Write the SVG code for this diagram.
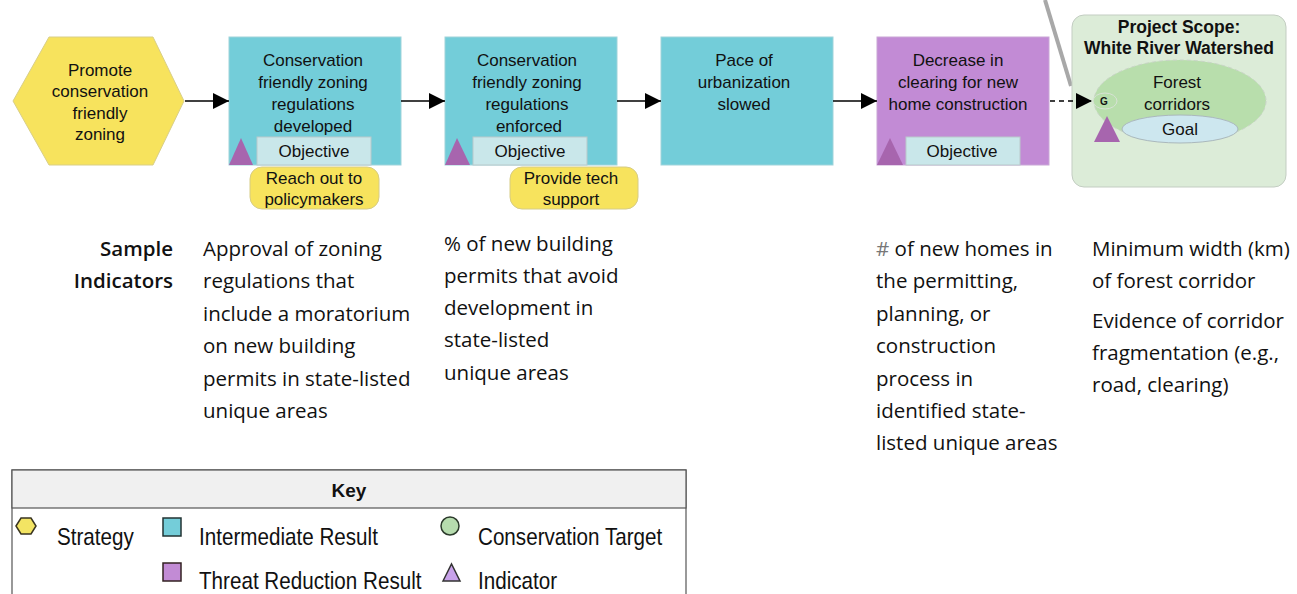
<svg xmlns="http://www.w3.org/2000/svg" width="1297" height="594" viewBox="0 0 1297 594">
<defs>
<marker id="ah" viewBox="0 0 10 10" refX="10" refY="5" markerWidth="16" markerHeight="16" markerUnits="userSpaceOnUse" orient="auto"><path d="M0,0 L10,5 L0,10 z" fill="#000"/></marker>
<style>
.lbl{font-family:"Liberation Sans",Arial,sans-serif;font-size:17px;fill:#111;text-anchor:middle}
.ir{fill:#73cdd9;stroke:#9fd3da;stroke-width:1}
.tr{fill:#c28bd5;stroke:#c9a6d6;stroke-width:1}
.obj{fill:#c9e7ea;stroke:#b9c9cb;stroke-width:1}
.ind{fill:#a765ae}
.act{fill:#f7e35d;stroke:#d6cc86;stroke-width:1}
.conn{stroke:#000;stroke-width:1.6;fill:none}
.si{font-family:"Open Sans","Noto Sans",sans-serif;font-size:20.5px;fill:#111}
.key{font-family:"Liberation Sans",Arial,sans-serif;font-size:24px;fill:#111}
</style>
</defs>
<rect width="1297" height="594" fill="#fff"/>
<line x1="1045" y1="0" x2="1071" y2="86" stroke="#a8a8a8" stroke-width="4"/>

<g id="strategy">
<polygon points="13,101 49,37 153,37 184,101 153,165 49,165" fill="#f7e35d" stroke="#d9cf88"/>
<text class="lbl" x="100" y="76">Promote</text>
<text class="lbl" x="100" y="97">conservation</text>
<text class="lbl" x="100" y="119">friendly</text>
<text class="lbl" x="100" y="140">zoning</text>
</g>

<g id="ir1">
<rect class="ir" x="229" y="37" width="172" height="128"/>
<text class="lbl" x="313" y="66">Conservation</text>
<text class="lbl" x="313" y="88">friendly zoning</text>
<text class="lbl" x="313" y="110">regulations</text>
<text class="lbl" x="313" y="132">developed</text>
<rect class="obj" x="257" y="137" width="114" height="28"/>
<text class="lbl" x="314" y="157">Objective</text>
<polygon class="ind" points="229,165 241,138 253,165"/>
</g>
<g id="act1">
<rect class="act" x="250" y="167" width="129" height="42" rx="12"/>
<text class="lbl" x="314" y="184">Reach out to</text>
<text class="lbl" x="314" y="205">policymakers</text>
</g>

<g id="ir2">
<rect class="ir" x="445" y="37" width="172" height="128"/>
<text class="lbl" x="527" y="66">Conservation</text>
<text class="lbl" x="527" y="88">friendly zoning</text>
<text class="lbl" x="527" y="110">regulations</text>
<text class="lbl" x="529" y="132">enforced</text>
<rect class="obj" x="473" y="137" width="114" height="28"/>
<text class="lbl" x="530" y="157">Objective</text>
<polygon class="ind" points="445,165 457,138 470,165"/>
</g>
<g id="act2">
<rect class="act" x="510" y="167" width="128" height="42" rx="12"/>
<text class="lbl" x="571" y="184">Provide tech</text>
<text class="lbl" x="571" y="205">support</text>
</g>

<g id="ir3">
<rect class="ir" x="661" y="37" width="172" height="128"/>
<text class="lbl" x="744" y="66">Pace of</text>
<text class="lbl" x="744" y="88">urbanization</text>
<text class="lbl" x="744" y="110">slowed</text>
</g>

<g id="trr">
<rect class="tr" x="877" y="37" width="172" height="128"/>
<text class="lbl" x="958" y="66">Decrease in</text>
<text class="lbl" x="958" y="88">clearing for new</text>
<text class="lbl" x="958" y="110">home construction</text>
<rect class="obj" x="906" y="137" width="114" height="28"/>
<text class="lbl" x="962" y="157">Objective</text>
<polygon class="ind" points="877,165 890,138 903,165"/>
</g>

<g id="scope">
<rect x="1072" y="15" width="214" height="172" rx="12" fill="#dcecd8" stroke="#c3cdc2"/>
<text class="lbl" x="1179" y="33" style="font-weight:bold;font-size:17.5px">Project Scope:</text>
<text class="lbl" x="1179" y="54" style="font-weight:bold;font-size:17.5px">White River Watershed</text>
<ellipse cx="1180" cy="101" rx="86" ry="41" fill="#b8deac" stroke="#c8d4c6" stroke-dasharray="4,3"/>
<text class="lbl" x="1177" y="88">Forest</text>
<text class="lbl" x="1177" y="110">corridors</text>
<ellipse cx="1105" cy="101" rx="12" ry="8" fill="#b8deac" stroke="#d8e2d6"/>
<text x="1104" y="105" style="font-family:'Liberation Sans',Arial,sans-serif;font-size:10px;font-weight:bold;text-anchor:middle;fill:#111">G</text>
<ellipse cx="1180" cy="129" rx="58" ry="14" fill="#cde7ef" stroke="#aab8bc"/>
<text class="lbl" x="1180" y="135">Goal</text>
<polygon class="ind" points="1094,142 1107,116 1120,142"/>
</g>

<g id="connectors">
<line class="conn" x1="185" y1="101" x2="229" y2="101" marker-end="url(#ah)"/>
<line class="conn" x1="401" y1="101" x2="445" y2="101" marker-end="url(#ah)"/>
<line class="conn" x1="617" y1="101" x2="661" y2="101" marker-end="url(#ah)"/>
<line class="conn" x1="833" y1="101" x2="877" y2="101" marker-end="url(#ah)"/>
<line class="conn" x1="1050" y1="101" x2="1092" y2="101" stroke-dasharray="5,4" marker-end="url(#ah)"/>
</g>

<g id="indicators">
<text class="si" x="173" y="256" text-anchor="end" style="font-weight:600">Sample</text>
<text class="si" x="173" y="288" text-anchor="end" style="font-weight:600">Indicators</text>
<text class="si" x="203" y="256">Approval of zoning</text>
<text class="si" x="203" y="288">regulations that</text>
<text class="si" x="203" y="321">include a moratorium</text>
<text class="si" x="203" y="353">on new building</text>
<text class="si" x="203" y="386">permits in state-listed</text>
<text class="si" x="203" y="418">unique areas</text>
<text class="si" x="444" y="251">% of new building</text>
<text class="si" x="444" y="283">permits that avoid</text>
<text class="si" x="444" y="315">development in</text>
<text class="si" x="444" y="347">state-listed</text>
<text class="si" x="444" y="380">unique areas</text>
<text class="si" x="876" y="256"><tspan fill="#777">#</tspan> of new homes in</text>
<text class="si" x="876" y="288">the permitting,</text>
<text class="si" x="876" y="321">planning, or</text>
<text class="si" x="876" y="353">construction</text>
<text class="si" x="876" y="386">process in</text>
<text class="si" x="876" y="418">identified state-</text>
<text class="si" x="876" y="450">listed unique areas</text>
<text class="si" x="1092" y="256">Minimum width (km)</text>
<text class="si" x="1092" y="288">of forest corridor</text>
<text class="si" x="1092" y="328">Evidence of corridor</text>
<text class="si" x="1092" y="360">fragmentation (e.g.,</text>
<text class="si" x="1092" y="392">road, clearing)</text>
</g>

<g id="key">
<rect x="12" y="470" width="674" height="130" fill="#fff" stroke="#555" stroke-width="1.2"/>
<rect x="12" y="470" width="674" height="38" fill="#f0f0f0" stroke="#555" stroke-width="1.2"/>
<text x="349" y="497" text-anchor="middle" style="font-family:'Liberation Sans',Arial,sans-serif;font-size:19px;font-weight:bold;fill:#111">Key</text>
<polygon points="16,526 21,518 31,518 36,526 31,534 21,534" fill="#f3e463" stroke="#3a3520" stroke-width="1.5"/>
<text class="key" transform="translate(57,545) scale(0.86,1)">Strategy</text>
<rect x="163" y="518" width="18" height="18" fill="#74cdd9" stroke="#233" stroke-width="1.5"/>
<text class="key" transform="translate(199,545) scale(0.86,1)">Intermediate Result</text>
<circle cx="450" cy="526" r="9" fill="#b6dcae" stroke="#2b3a2b" stroke-width="1.5"/>
<text class="key" transform="translate(478,545) scale(0.86,1)">Conservation Target</text>
<rect x="163" y="563" width="18" height="18" fill="#c28bd5" stroke="#322" stroke-width="1.5"/>
<text class="key" transform="translate(199,589) scale(0.86,1)">Threat Reduction Result</text>
<polygon points="443,581 451.5,564 460,581" fill="#c8a2ea" stroke="#333" stroke-width="1.5"/>
<text class="key" transform="translate(478,589) scale(0.86,1)">Indicator</text>
</g>
</svg>
